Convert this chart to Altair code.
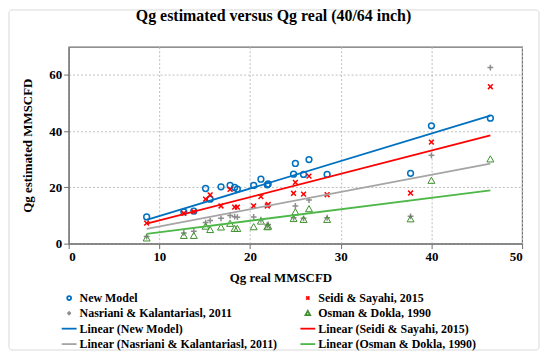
import altair as alt
import pandas as pd

# Qg real (x) values
qg_real = [8.6, 12.7, 13.8, 15.1, 15.6, 16.8, 17.8, 18.3, 18.6, 20.4, 21.2,
           21.9, 22.0, 24.8, 25.0, 25.9, 26.5, 28.5, 37.7, 40.0, 46.5]
new_model = [9.5, 11.3, 11.6, 19.6, 15.8, 20.2, 20.7, 20.0, 19.4, 20.7, 22.9,
             20.9, 21.2, 24.7, 28.5, 24.6, 29.9, 24.6, 25.0, 41.9, 44.6]
seidi = [7.3, 10.8, 11.4, 15.8, 17.3, 13.4, 19.3, 13.0, 13.0, 13.4, 16.7,
         13.4, 13.9, 17.9, 21.8, 17.6, 24.0, 17.4, 18.0, 36.1, 55.8]
nasriani = [2.5, 3.8, 4.4, 7.5, 8.2, 9.0, 10.0, 9.6, 9.4, 9.5, 8.5,
            6.6, 6.8, 9.2, 13.4, 9.0, 15.5, 9.2, 9.7, 31.4, 62.6]
osman = [1.9, 2.8, 2.8, 6.1, 4.9, 5.8, 7.1, 5.3, 5.3, 5.9, 7.9,
         5.9, 6.1, 8.8, 11.2, 8.5, 12.3, 8.5, 8.7, 22.4, 30.0]

series_names = ["New Model", "Seidi & Sayahi, 2015",
                "Nasriani & Kalantariasl, 2011", "Osman & Dokla, 1990"]

rows = []
for name, vals in zip(series_names, [new_model, seidi, nasriani, osman]):
    for xv, yv in zip(qg_real, vals):
        rows.append({"x": xv, "y": yv, "series": name})
df = pd.DataFrame(rows)

# legend entries (laid out column by column, two columns)
domain = ["New Model", "Nasriani & Kalantariasl, 2011",
          "Linear (New Model)", "Linear (Nasriani & Kalantariasl, 2011)",
          "Seidi & Sayahi, 2015", "Osman & Dokla, 1990",
          "Linear (Seidi & Sayahi, 2015)", "Linear (Osman & Dokla, 1990)"]
colors = ["#0070C0", "#8C8C8C", "#0070C0", "#A5A5A5",
          "#FF0000", "#3F8F2F", "#FF0000", "#4DB848"]
LINE = "M-1.15,0L1.15,0"
shapes = [
    "M-0.3,0A0.3,0.3,0,1,1,0.3,0A0.3,0.3,0,1,1,-0.3,0Z",
    "M-0.3,0L0.3,0M0,-0.3L0,0.3",
    LINE, LINE,
    "M-0.25,-0.25L0.25,0.25M-0.25,0.25L0.25,-0.25",
    "M0,-0.36L0.36,0.28L-0.36,0.28Z",
    LINE, LINE,
]

FONT = "Liberation Serif"

xscale = alt.Scale(domain=[0, 50], nice=False)
yscale = alt.Scale(domain=[0, 70], nice=False)
cscale = alt.Scale(domain=domain, range=colors)
sscale = alt.Scale(domain=domain, range=shapes)

xaxis = alt.Axis(values=[0, 10, 20, 30, 40, 50], title="Qg real MMSCFD",
                 titleX=213, titleY=28, titleAlign="center", titleBaseline="top",
                 labelPadding=2)
yaxis = alt.Axis(values=[0, 10, 20, 30, 40, 50, 60, 70], title="Qg estimated MMSCFD",
                 titleX=-41, titleY=99, titleAlign="center", titleBaseline="middle",
                 titleAngle=270)

base = alt.Chart(df)

points = base.mark_point(filled=False, size=376, opacity=1).encode(
    x=alt.X("x:Q", scale=xscale, axis=xaxis),
    y=alt.Y("y:Q", scale=yscale, axis=yaxis),
    color=alt.Color("series:N", scale=cscale, legend=alt.Legend(title=None)),
    shape=alt.Shape("series:N", scale=sscale, legend=alt.Legend(title=None)),
    strokeWidth=alt.condition("datum.series == 'Osman & Dokla, 1990'",
                              alt.value(1.0), alt.value(1.5)),
)

# linear trendlines through the origin (slope = sum(xy) / sum(x^2))
lines = base.transform_calculate(
    xy="datum.x * datum.y", xx="datum.x * datum.x"
).transform_aggregate(
    sxy="sum(xy)", sxx="sum(xx)", xmin="min(x)", xmax="max(x)", groupby=["series"]
).transform_fold(
    ["xmin", "xmax"], as_=["end", "xv"]
).transform_calculate(
    yv="datum.sxy / datum.sxx * datum.xv",
    lineSeries="'Linear (' + datum.series + ')'"
).mark_line(strokeWidth=1.8).encode(
    x=alt.X("xv:Q", scale=xscale),
    y=alt.Y("yv:Q", scale=yscale),
    color=alt.Color("lineSeries:N", scale=cscale, legend=alt.Legend(title=None)),
)

frame = alt.Chart(pd.DataFrame({"a": [0]})).mark_rect(
    fill=None, stroke="#D9D9D9", strokeWidth=1, cornerRadius=3, clip=False
).encode(
    x=alt.value(-60), x2=alt.value(473), y=alt.value(-37), y2=alt.value(305)
)

chart = alt.layer(frame, points, lines).properties(
    width=456, height=198,
    title=alt.Title("Qg estimated versus Qg real (40/64 inch)", font=FONT,
                    fontSize=16, fontWeight="bold", color="black",
                    anchor="middle", dx=-22, offset=-15, frame="group"),
    autosize=alt.AutoSizeParams(type="none"),
    padding={"left": 61, "top": 38, "right": 20, "bottom": 108},
).configure_view(
    stroke="#6E6E6E", strokeWidth=1.2
).configure_axis(
    labelFont=FONT, labelFontSize=13, labelFontWeight="bold", labelColor="black",
    titleFont=FONT, titleFontSize=13, titleFontWeight="bold", titleColor="black",
    domainColor="#6E6E6E", tickColor="#6E6E6E", tickSize=5,
    gridColor="#BDBDBD", gridDash=[2, 2], gridWidth=1, gridOpacity=1,
).configure_legend(
    orient="none", legendX=-7, legendY=245, columns=2, symbolSize=169,
    symbolStrokeWidth=1.8, labelFont=FONT, labelFontSize=12,
    labelFontWeight="bold", labelColor="black", labelOffset=3,
    columnPadding=19, rowPadding=1.5, labelLimit=400,
)

chart.save("out.html", embed_options={"renderer": "svg", "actions": False})
